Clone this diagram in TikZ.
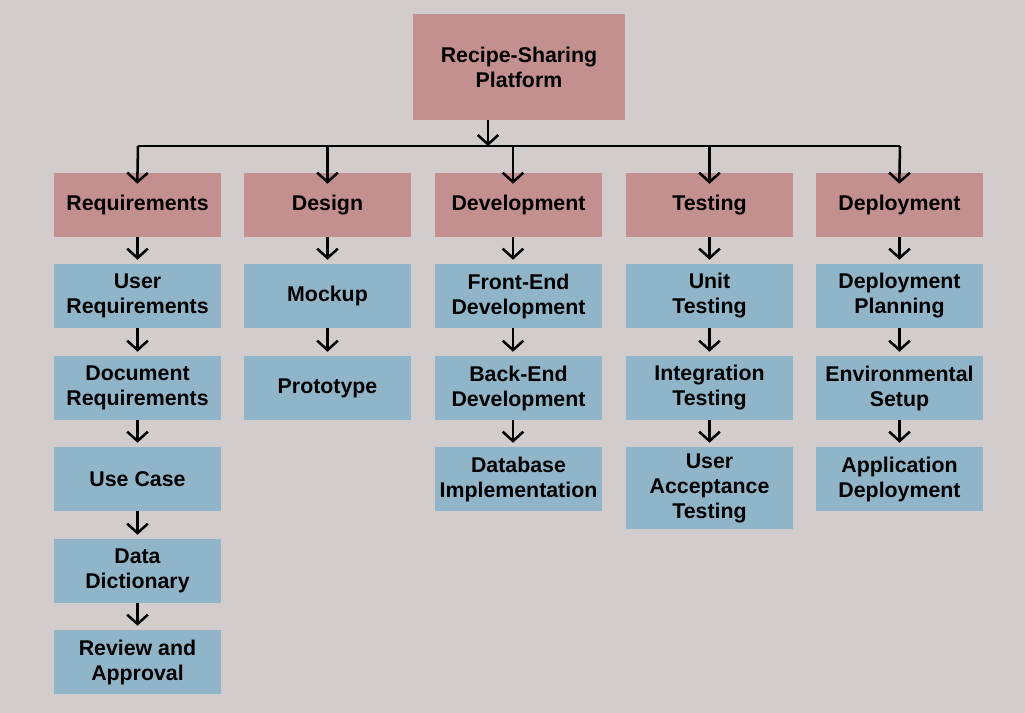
\documentclass[tikz,border=0pt]{standalone}
\usepackage{fontspec}
\setmainfont{Liberation Sans}
\usetikzlibrary{arrows.meta}
\definecolor{bgcol}{RGB}{211,204,204}
\definecolor{phasecol}{RGB}{196,143,143}
\definecolor{taskcol}{RGB}{145,181,200}
\tikzset{
  phase/.style={fill=phasecol, minimum width=125.25pt, minimum height=48pt, inner sep=0pt, align=center, font=\bfseries\fontsize{16}{18.75}\selectfont},
  task/.style={phase, fill=taskcol},
  arr/.style={line width=1.9pt, -{Straight Barb[length=7pt,width=15.5pt]}},
  down/.style={arr, shorten >=-8.25pt},
  next/.style={arr, shorten >=3pt}
}
\begin{document}
\begin{tikzpicture}[x=0.75pt,y=0.75pt,yscale=-1,xscale=1]
%background
\fill[bgcol] (0,0) rectangle (1025,713);
\useasboundingbox (0,0) rectangle (1025,713);

%Root
\node[phase, minimum width=159pt, minimum height=79.5pt] (root) at (519,67) {Recipe-Sharing\\Platform};

%Phases
\node[phase] (req) at (137.5,205) {Requirements};
\node[phase] (des) at (327.5,205) {Design};
\node[phase] (dev) at (518.5,205) {Development};
\node[phase] (tst) at (709.5,205) {Testing};
\node[phase] (dep) at (899.5,205) {Deployment};

%Requirements tasks
\node[task] (ureq) at (137.5,296) {User\\Requirements};
\node[task] (dreq) at (137.5,388) {Document\\Requirements};
\node[task] (ucase) at (137.5,479) {Use Case};
\node[task] (ddict) at (137.5,571) {Data\\Dictionary};
\node[task] (rapp) at (137.5,662) {Review and\\Approval};
%Design tasks
\node[task] (mock) at (327.5,296) {Mockup};
\node[task] (proto) at (327.5,388) {Prototype};
%Development tasks
\node[task] (fed) at (518.5,296) {Front-End\\Development};
\node[task] (bed) at (518.5,388) {Back-End\\Development};
\node[task] (dbi) at (518.5,479) {Database\\Implementation};
%Testing tasks
\node[task] (unit) at (709.5,296) {Unit\\Testing};
\node[task] (integ) at (709.5,388) {Integration\\Testing};
\node[task, minimum height=61.5pt] (uat) at (709.5,488) {User\\Acceptance\\Testing};
%Deployment tasks
\node[task] (dplan) at (899.5,296) {Deployment\\Planning};
\node[task] (env) at (899.5,388) {Environmental\\Setup};
\node[task] (appd) at (899.5,479) {Application\\Deployment};

%Bus
\coordinate (bus) at (138,146);
\coordinate (busend) at (900,146);
\coordinate (topx) at (488,146);
\coordinate (devx) at (513,146);
\draw[line width=1.1pt] (bus) -- (busend);
\draw[arr] (root.south -| topx) -- (topx);

%Bus to phases
\draw[down] (bus) -- (req.north);
\draw[down] (bus -| des.north) -- (des.north);
\draw[down] (devx) -- (dev.north -| devx);
\draw[down] (bus -| tst.north) -- (tst.north);
\draw[down] (busend) -- (dep.north);

%Requirements chain
\draw[next] (req) -- (ureq);
\draw[next] (ureq) -- (dreq);
\draw[next] (dreq) -- (ucase);
\draw[next] (ucase) -- (ddict);
\draw[next] (ddict) -- (rapp);
%Design chain
\draw[next] (des) -- (mock);
\draw[next] (mock) -- (proto);
%Development chain
\draw[next] (dev.south -| devx) -- (fed.north -| devx);
\draw[next] (fed.south -| devx) -- (bed.north -| devx);
\draw[next] (bed.south -| devx) -- (dbi.north -| devx);
%Testing chain
\draw[next] (tst) -- (unit);
\draw[next] (unit) -- (integ);
\draw[next] (integ) -- (uat);
%Deployment chain
\draw[next] (dep) -- (dplan);
\draw[next] (dplan) -- (env);
\draw[next] (env) -- (appd);

\end{tikzpicture}
\end{document}
